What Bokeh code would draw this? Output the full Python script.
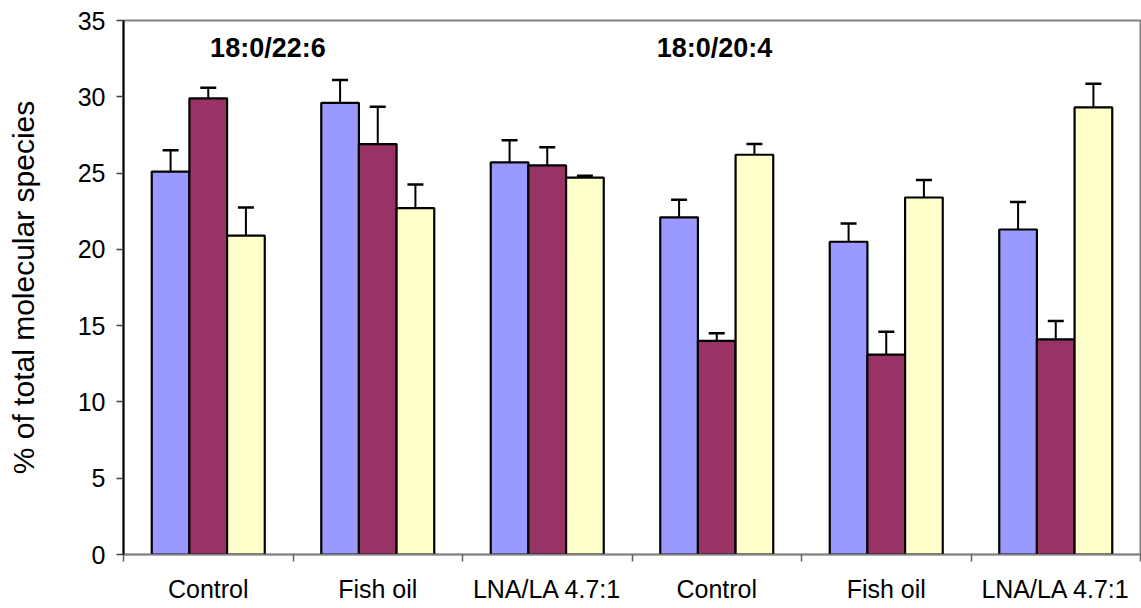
import numpy as np
from bokeh.plotting import figure
from bokeh.models import FixedTicker, Label, Whisker, TeeHead, ColumnDataSource, Range1d
from bokeh.embed import file_html
from bokeh.resources import INLINE

# ---- data ----
categories = ["Control", "Fish oil", "LNA/LA 4.7:1", "Control", "Fish oil", "LNA/LA 4.7:1"]
series_blue = [25.1, 29.6, 25.7, 22.1, 20.5, 21.3]
series_maroon = [29.9, 26.9, 25.5, 14.0, 13.1, 14.1]
series_yellow = [20.9, 22.7, 24.7, 26.2, 23.4, 29.3]
err_blue = [1.4, 1.5, 1.45, 1.15, 1.2, 1.8]
err_maroon = [0.7, 2.45, 1.2, 0.5, 1.5, 1.2]
err_yellow = [1.85, 1.55, 0.12, 0.7, 1.15, 1.55]
group_labels = ["18:0/22:6", "18:0/20:4"]
group_label_x = [0.852, 3.487]
group_label_y = [33.17, 33.17]
y_ticks = [0, 5, 10, 15, 20, 25, 30, 35]

FONT = "Liberation Sans"
colors = ["#9999FF", "#993366", "#FFFFCC"]
bar_w = 2.0 / 9.0
offsets = [-bar_w, 0.0, bar_w]

p = figure(width=1141, height=608, x_range=Range1d(0, 6), y_range=Range1d(0, 35),
           output_backend="svg", toolbar_location=None,
           min_border_left=123, min_border_right=1, min_border_top=20, min_border_bottom=54)
p.xgrid.visible = False
p.ygrid.visible = False
p.outline_line_color = "#808080"
p.outline_line_width = 2
p.background_fill_color = "white"
p.border_fill_color = "white"

centers = np.arange(len(categories)) + 0.5
for vals, errs, col, off in zip([series_blue, series_maroon, series_yellow],
                                [err_blue, err_maroon, err_yellow], colors, offsets):
    xs = centers + off
    vals = np.array(vals)
    errs = np.array(errs)
    src = ColumnDataSource(dict(x=xs, top=vals, upper=vals + errs))
    p.vbar(x="x", top="top", bottom=0, width=bar_w, source=src,
           fill_color=col, line_color="black", line_width=2.2)
    w = Whisker(source=src, base="x", lower="top", upper="upper", dimension="height",
                line_color="black", line_width=2,
                lower_head=None,
                upper_head=TeeHead(size=16, line_color="black", line_width=2.5))
    p.add_layout(w)

for t, x, y in zip(group_labels, group_label_x, group_label_y):
    p.add_layout(Label(x=x, y=y, text=t, text_font=FONT, text_font_style="bold",
                       text_font_size="27px", text_align="center", text_baseline="middle",
                       text_color="black"))

# x axis
xa = p.xaxis[0]
xa.ticker = FixedTicker(ticks=list(centers), minor_ticks=list(range(len(categories) + 1)))
xa.major_label_overrides = {float(c): name for c, name in zip(centers, categories)}
xa.major_tick_out = 0
xa.major_tick_in = 0
xa.minor_tick_out = 7
xa.minor_tick_in = 0
xa.minor_tick_line_color = "#606060"
xa.minor_tick_line_width = 1.5
xa.axis_line_color = "#808080"
xa.axis_line_width = 1.5
xa.major_label_text_font = FONT
xa.major_label_text_font_size = "25px"
xa.major_label_text_color = "black"
xa.major_label_standoff = 13

# y axis
ya = p.yaxis[0]
ya.ticker = FixedTicker(ticks=y_ticks, minor_ticks=[])
ya.major_tick_out = 7
ya.major_tick_in = 0
ya.major_tick_line_color = "#404040"
ya.major_tick_line_width = 1.5
ya.axis_line_color = "black"
ya.axis_line_width = 2
ya.major_label_text_font = FONT
ya.major_label_text_font_size = "25px"
ya.major_label_text_color = "black"
ya.major_label_standoff = 11
ya.axis_label = "% of total molecular species"
ya.axis_label_text_font = FONT
ya.axis_label_text_font_size = "30px"
ya.axis_label_text_font_style = "normal"
ya.axis_label_text_color = "black"
ya.axis_label_standoff = 35

open("out.html", "w").write(file_html(p, INLINE))
